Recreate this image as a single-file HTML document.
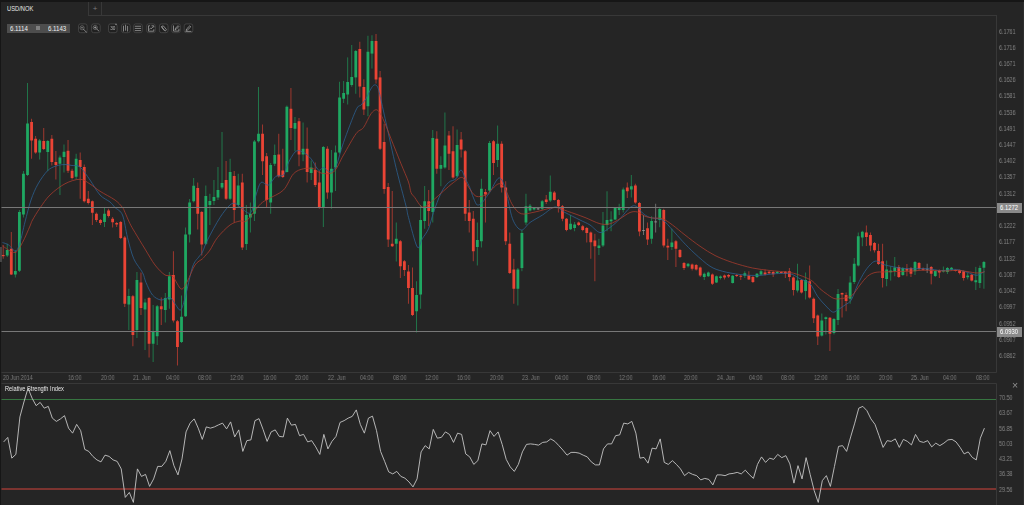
<!DOCTYPE html>
<html lang="en"><head><meta charset="utf-8"><title>USD/NOK</title>
<style>
html,body{margin:0;padding:0;background:#252525;}
body{width:1024px;height:505px;overflow:hidden;position:relative;font-family:"Liberation Sans",sans-serif;}
#app{position:absolute;left:0;top:0;width:1024px;height:505px;background:#252525;overflow:hidden;}
.abs{position:absolute;}
.tab{left:6.8px;top:4px;font-size:6.9px;line-height:9px;color:#e6e6e6;white-space:nowrap;transform:scaleX(0.835);transform-origin:0 0;}
.plus{left:92.2px;top:3.8px;width:6px;text-align:center;font-size:8px;line-height:9px;color:#7a7a7a;}
.pbox{left:7px;top:23.5px;width:62.8px;height:9.3px;background:#4d4d4d;}
.pbox span{position:absolute;top:1.2px;font-size:6.8px;line-height:7px;color:#f0f0f0;white-space:nowrap;transform:scaleX(0.9);transform-origin:0 0;}
.ico{position:absolute;top:23.7px;width:8.6px;height:8.6px;border:0.8px solid #4d4d4d;border-radius:2px;}
.ico svg{position:absolute;left:0;top:0;width:8.6px;height:8.6px;}
.pl{position:absolute;left:999px;font-size:6.6px;line-height:7px;color:#858585;white-space:nowrap;transform:scaleX(0.82);will-change:transform;transform-origin:0 0;}
.hl{position:absolute;left:997px;width:25.4px;height:10px;background:#8a8a8a;} .hl span{position:absolute;left:3px;top:0;color:#fff;font-size:6.6px;line-height:10px;white-space:nowrap;transform:scaleX(0.89);transform-origin:0 0;}
.tlab{position:absolute;top:374.0px;font-size:6.5px;line-height:7px;color:#7c7c7c;white-space:nowrap;transform:scaleX(0.83);will-change:transform;transform-origin:0 0;}
.rsit{left:5px;top:385.3px;font-size:7px;line-height:8px;color:#e8e8e8;white-space:nowrap;transform:scaleX(0.81);transform-origin:0 0;}
.x{left:1012.2px;top:380.1px;font-size:10.5px;line-height:11px;color:#909090;will-change:transform;}
</style></head><body><div id="app">

<div class="abs" style="left:0;top:0;width:1024px;height:1.6px;background:#161616"></div>
<div class="abs" style="left:0;top:0;width:1.2px;height:505px;background:#161616"></div>
<div class="abs" style="left:1022.6px;top:1.6px;width:1.4px;height:505px;background:#2d2d2d"></div>
<div class="abs" style="left:0;top:247.3px;width:1.5px;height:14.4px;background:#464646"></div>
<div class="abs tab">USD/NOK</div>
<div class="abs" style="left:88px;top:2px;width:1px;height:13.5px;background:#383838"></div>
<div class="abs" style="left:101px;top:2px;width:1px;height:13.5px;background:#383838"></div>
<div class="abs" style="left:88px;top:15px;width:909px;height:1px;background:#383838"></div>
<div class="abs plus">+</div>
<div class="abs pbox"><span style="left:2.8px">6.1114</span><i class="abs" style="left:29px;top:2.8px;width:4.2px;height:3.8px;background:#808080"></i><span style="left:41.1px">6.1143</span></div>
<svg class="abs" style="left:0;top:0;will-change:transform" width="1024" height="505" viewBox="0 0 1024 505">
<g stroke="#383838" stroke-width="1" fill="none"><path d="M996.5 15.5V372.5H1.5M1.5 383.5H996.5V505"/></g>
<g stroke-width="1" opacity="0.62"><line x1="3.2" x2="3.2" y1="245" y2="258.75" stroke="#ea4435"/><line x1="7.25" x2="7.25" y1="243.75" y2="257" stroke="#1fa862"/><line x1="11.3" x2="11.3" y1="232" y2="275" stroke="#ea4435"/><line x1="15.36" x2="15.36" y1="250" y2="277.5" stroke="#1fa862"/><line x1="19.41" x2="19.41" y1="210" y2="272" stroke="#1fa862"/><line x1="23.46" x2="23.46" y1="171" y2="217.5" stroke="#1fa862"/><line x1="27.52" x2="27.52" y1="83" y2="176" stroke="#1fa862"/><line x1="31.57" x2="31.57" y1="118.75" y2="158.75" stroke="#ea4435"/><line x1="35.62" x2="35.62" y1="136" y2="153.75" stroke="#ea4435"/><line x1="39.67" x2="39.67" y1="139" y2="159.5" stroke="#1fa862"/><line x1="43.73" x2="43.73" y1="128" y2="150" stroke="#ea4435"/><line x1="47.78" x2="47.78" y1="140" y2="171" stroke="#1fa862"/><line x1="51.83" x2="51.83" y1="135" y2="165.5" stroke="#ea4435"/><line x1="55.88" x2="55.88" y1="151" y2="179.5" stroke="#ea4435"/><line x1="59.94" x2="59.94" y1="155.5" y2="195" stroke="#1fa862"/><line x1="63.99" x2="63.99" y1="144.5" y2="172.5" stroke="#1fa862"/><line x1="68.04" x2="68.04" y1="140" y2="173" stroke="#ea4435"/><line x1="72.09" x2="72.09" y1="168.75" y2="179.5" stroke="#ea4435"/><line x1="76.15" x2="76.15" y1="153.75" y2="179.5" stroke="#1fa862"/><line x1="80.2" x2="80.2" y1="152.5" y2="198.75" stroke="#ea4435"/><line x1="84.25" x2="84.25" y1="164.5" y2="202.5" stroke="#ea4435"/><line x1="88.3" x2="88.3" y1="191" y2="204.5" stroke="#ea4435"/><line x1="92.36" x2="92.36" y1="200.5" y2="225" stroke="#ea4435"/><line x1="96.41" x2="96.41" y1="212.5" y2="222" stroke="#ea4435"/><line x1="100.46" x2="100.46" y1="219" y2="225" stroke="#ea4435"/><line x1="104.51" x2="104.51" y1="207.5" y2="227" stroke="#1fa862"/><line x1="108.57" x2="108.57" y1="208.75" y2="217.5" stroke="#ea4435"/><line x1="112.62" x2="112.62" y1="217" y2="227.5" stroke="#ea4435"/><line x1="116.67" x2="116.67" y1="222" y2="227" stroke="#ea4435"/><line x1="120.72" x2="120.72" y1="221" y2="239" stroke="#ea4435"/><line x1="124.78" x2="124.78" y1="236" y2="307" stroke="#ea4435"/><line x1="128.83" x2="128.83" y1="288.75" y2="330" stroke="#1fa862"/><line x1="132.88" x2="132.88" y1="295" y2="346.25" stroke="#ea4435"/><line x1="136.93" x2="136.93" y1="272" y2="338" stroke="#1fa862"/><line x1="140.98" x2="140.98" y1="272.5" y2="315" stroke="#ea4435"/><line x1="145.04" x2="145.04" y1="298.75" y2="350" stroke="#1fa862"/><line x1="149.09" x2="149.09" y1="297" y2="357.5" stroke="#ea4435"/><line x1="153.14" x2="153.14" y1="305" y2="362" stroke="#1fa862"/><line x1="157.19" x2="157.19" y1="305" y2="345" stroke="#1fa862"/><line x1="161.25" x2="161.25" y1="297.5" y2="325" stroke="#ea4435"/><line x1="165.3" x2="165.3" y1="293" y2="322.5" stroke="#1fa862"/><line x1="169.35" x2="169.35" y1="272" y2="308.75" stroke="#1fa862"/><line x1="173.41" x2="173.41" y1="251.25" y2="322.5" stroke="#ea4435"/><line x1="177.46" x2="177.46" y1="320" y2="365.5" stroke="#ea4435"/><line x1="181.51" x2="181.51" y1="295.5" y2="343" stroke="#1fa862"/><line x1="185.56" x2="185.56" y1="227.5" y2="317" stroke="#1fa862"/><line x1="189.62" x2="189.62" y1="199" y2="242.5" stroke="#1fa862"/><line x1="193.67" x2="193.67" y1="178" y2="202.5" stroke="#1fa862"/><line x1="197.72" x2="197.72" y1="182.5" y2="229.5" stroke="#ea4435"/><line x1="201.77" x2="201.77" y1="211" y2="255.5" stroke="#ea4435"/><line x1="205.82" x2="205.82" y1="185.5" y2="245" stroke="#1fa862"/><line x1="209.88" x2="209.88" y1="193.75" y2="225" stroke="#1fa862"/><line x1="213.93" x2="213.93" y1="180" y2="205" stroke="#1fa862"/><line x1="217.98" x2="217.98" y1="167" y2="200" stroke="#1fa862"/><line x1="222.03" x2="222.03" y1="132" y2="189" stroke="#1fa862"/><line x1="226.09" x2="226.09" y1="161" y2="200" stroke="#ea4435"/><line x1="230.14" x2="230.14" y1="158.75" y2="200" stroke="#1fa862"/><line x1="234.19" x2="234.19" y1="171" y2="222.5" stroke="#ea4435"/><line x1="238.25" x2="238.25" y1="173.75" y2="207" stroke="#1fa862"/><line x1="242.3" x2="242.3" y1="173.75" y2="250" stroke="#ea4435"/><line x1="246.35" x2="246.35" y1="205" y2="250" stroke="#1fa862"/><line x1="250.4" x2="250.4" y1="202.5" y2="232.5" stroke="#1fa862"/><line x1="254.46" x2="254.46" y1="140" y2="221" stroke="#1fa862"/><line x1="258.51" x2="258.51" y1="87" y2="142.5" stroke="#1fa862"/><line x1="262.56" x2="262.56" y1="124.5" y2="175" stroke="#ea4435"/><line x1="266.61" x2="266.61" y1="153" y2="207" stroke="#ea4435"/><line x1="270.67" x2="270.67" y1="163" y2="213.75" stroke="#1fa862"/><line x1="274.72" x2="274.72" y1="144.5" y2="166" stroke="#1fa862"/><line x1="278.77" x2="278.77" y1="133.75" y2="177.5" stroke="#ea4435"/><line x1="282.82" x2="282.82" y1="148.75" y2="178" stroke="#ea4435"/><line x1="286.88" x2="286.88" y1="105.5" y2="172.5" stroke="#1fa862"/><line x1="290.93" x2="290.93" y1="88" y2="140" stroke="#ea4435"/><line x1="294.98" x2="294.98" y1="117" y2="151.25" stroke="#1fa862"/><line x1="299.03" x2="299.03" y1="118" y2="166.25" stroke="#ea4435"/><line x1="303.08" x2="303.08" y1="122.5" y2="161.25" stroke="#1fa862"/><line x1="307.14" x2="307.14" y1="127.5" y2="182.5" stroke="#ea4435"/><line x1="311.19" x2="311.19" y1="160.5" y2="180" stroke="#1fa862"/><line x1="315.24" x2="315.24" y1="162.5" y2="187" stroke="#ea4435"/><line x1="319.3" x2="319.3" y1="171" y2="208.75" stroke="#ea4435"/><line x1="323.35" x2="323.35" y1="146" y2="227" stroke="#1fa862"/><line x1="327.4" x2="327.4" y1="146.25" y2="198.75" stroke="#ea4435"/><line x1="331.45" x2="331.45" y1="150" y2="208.75" stroke="#1fa862"/><line x1="335.5" x2="335.5" y1="145.5" y2="191" stroke="#1fa862"/><line x1="339.56" x2="339.56" y1="81.75" y2="153.75" stroke="#1fa862"/><line x1="343.61" x2="343.61" y1="81" y2="103" stroke="#1fa862"/><line x1="347.66" x2="347.66" y1="57.4" y2="104.5" stroke="#1fa862"/><line x1="351.72" x2="351.72" y1="45" y2="86.75" stroke="#1fa862"/><line x1="355.77" x2="355.77" y1="50" y2="93.75" stroke="#1fa862"/><line x1="359.82" x2="359.82" y1="41.75" y2="97.5" stroke="#ea4435"/><line x1="363.87" x2="363.87" y1="79.25" y2="115" stroke="#ea4435"/><line x1="367.93" x2="367.93" y1="35.75" y2="116.25" stroke="#1fa862"/><line x1="371.98" x2="371.98" y1="35.25" y2="68.6" stroke="#1fa862"/><line x1="376.03" x2="376.03" y1="34" y2="83.6" stroke="#ea4435"/><line x1="380.08" x2="380.08" y1="71" y2="150" stroke="#ea4435"/><line x1="384.13" x2="384.13" y1="123.75" y2="193.75" stroke="#ea4435"/><line x1="388.19" x2="388.19" y1="183" y2="247" stroke="#ea4435"/><line x1="392.24" x2="392.24" y1="191" y2="247" stroke="#ea4435"/><line x1="396.29" x2="396.29" y1="222.5" y2="261.5" stroke="#1fa862"/><line x1="400.35" x2="400.35" y1="240" y2="278" stroke="#ea4435"/><line x1="404.4" x2="404.4" y1="260" y2="276" stroke="#ea4435"/><line x1="408.45" x2="408.45" y1="265" y2="303.75" stroke="#ea4435"/><line x1="412.5" x2="412.5" y1="267.5" y2="316" stroke="#ea4435"/><line x1="416.56" x2="416.56" y1="281.25" y2="332.5" stroke="#1fa862"/><line x1="420.61" x2="420.61" y1="205" y2="308.75" stroke="#1fa862"/><line x1="424.66" x2="424.66" y1="186" y2="228.75" stroke="#1fa862"/><line x1="428.71" x2="428.71" y1="190" y2="226" stroke="#ea4435"/><line x1="432.76" x2="432.76" y1="130" y2="222.5" stroke="#1fa862"/><line x1="436.82" x2="436.82" y1="131.25" y2="173.75" stroke="#ea4435"/><line x1="440.87" x2="440.87" y1="156.25" y2="186.25" stroke="#1fa862"/><line x1="444.92" x2="444.92" y1="112.5" y2="168.75" stroke="#1fa862"/><line x1="448.98" x2="448.98" y1="131" y2="170" stroke="#ea4435"/><line x1="453.03" x2="453.03" y1="126.25" y2="178.75" stroke="#ea4435"/><line x1="457.08" x2="457.08" y1="129.5" y2="177.5" stroke="#1fa862"/><line x1="461.13" x2="461.13" y1="132" y2="157.5" stroke="#ea4435"/><line x1="465.19" x2="465.19" y1="150" y2="221" stroke="#ea4435"/><line x1="469.24" x2="469.24" y1="200" y2="232.5" stroke="#ea4435"/><line x1="473.29" x2="473.29" y1="211" y2="261.25" stroke="#ea4435"/><line x1="477.34" x2="477.34" y1="222.5" y2="265.5" stroke="#1fa862"/><line x1="481.4" x2="481.4" y1="178.75" y2="247.5" stroke="#1fa862"/><line x1="485.45" x2="485.45" y1="189" y2="222.5" stroke="#ea4435"/><line x1="489.5" x2="489.5" y1="141" y2="192" stroke="#1fa862"/><line x1="493.55" x2="493.55" y1="140" y2="175" stroke="#ea4435"/><line x1="497.61" x2="497.61" y1="125.5" y2="167" stroke="#1fa862"/><line x1="501.66" x2="501.66" y1="141.25" y2="192.5" stroke="#ea4435"/><line x1="505.71" x2="505.71" y1="181.25" y2="245" stroke="#ea4435"/><line x1="509.76" x2="509.76" y1="232.5" y2="274" stroke="#ea4435"/><line x1="513.82" x2="513.82" y1="258.75" y2="303.75" stroke="#ea4435"/><line x1="517.87" x2="517.87" y1="268" y2="305.5" stroke="#1fa862"/><line x1="521.92" x2="521.92" y1="230" y2="271.25" stroke="#1fa862"/><line x1="525.97" x2="525.97" y1="193.75" y2="225" stroke="#1fa862"/><line x1="530.03" x2="530.03" y1="204" y2="211.5" stroke="#1fa862"/><line x1="534.08" x2="534.08" y1="207" y2="210.5" stroke="#1fa862"/><line x1="538.13" x2="538.13" y1="208" y2="210" stroke="#9a9a9a"/><line x1="542.18" x2="542.18" y1="200" y2="210" stroke="#1fa862"/><line x1="546.24" x2="546.24" y1="195" y2="204" stroke="#ea4435"/><line x1="550.29" x2="550.29" y1="175.5" y2="202" stroke="#1fa862"/><line x1="554.34" x2="554.34" y1="191" y2="200.5" stroke="#ea4435"/><line x1="558.39" x2="558.39" y1="199" y2="212.5" stroke="#ea4435"/><line x1="562.45" x2="562.45" y1="205" y2="221.25" stroke="#ea4435"/><line x1="566.5" x2="566.5" y1="218" y2="231.25" stroke="#ea4435"/><line x1="570.55" x2="570.55" y1="215" y2="230" stroke="#1fa862"/><line x1="574.6" x2="574.6" y1="222" y2="231.25" stroke="#1fa862"/><line x1="578.66" x2="578.66" y1="221.5" y2="226" stroke="#ea4435"/><line x1="582.71" x2="582.71" y1="225" y2="231.25" stroke="#ea4435"/><line x1="586.76" x2="586.76" y1="227" y2="242.5" stroke="#ea4435"/><line x1="590.81" x2="590.81" y1="231.5" y2="258.75" stroke="#ea4435"/><line x1="594.87" x2="594.87" y1="233.75" y2="281.25" stroke="#ea4435"/><line x1="598.92" x2="598.92" y1="238.75" y2="255" stroke="#1fa862"/><line x1="602.97" x2="602.97" y1="212" y2="247" stroke="#1fa862"/><line x1="607.02" x2="607.02" y1="191.25" y2="231.25" stroke="#1fa862"/><line x1="611.08" x2="611.08" y1="211.25" y2="231.25" stroke="#1fa862"/><line x1="615.13" x2="615.13" y1="207" y2="220" stroke="#1fa862"/><line x1="619.18" x2="619.18" y1="203.75" y2="215" stroke="#1fa862"/><line x1="623.23" x2="623.23" y1="187.5" y2="212.5" stroke="#1fa862"/><line x1="627.29" x2="627.29" y1="182.5" y2="198" stroke="#ea4435"/><line x1="631.34" x2="631.34" y1="175" y2="197.5" stroke="#1fa862"/><line x1="635.39" x2="635.39" y1="183.75" y2="203.75" stroke="#ea4435"/><line x1="639.44" x2="639.44" y1="202" y2="236.25" stroke="#ea4435"/><line x1="643.5" x2="643.5" y1="215" y2="235" stroke="#9a9a9a"/><line x1="647.55" x2="647.55" y1="222.5" y2="245" stroke="#ea4435"/><line x1="651.6" x2="651.6" y1="216.25" y2="243.75" stroke="#1fa862"/><line x1="655.65" x2="655.65" y1="203.75" y2="232.5" stroke="#9a9a9a"/><line x1="659.71" x2="659.71" y1="208" y2="227.25" stroke="#1fa862"/><line x1="663.76" x2="663.76" y1="208.75" y2="247.5" stroke="#ea4435"/><line x1="667.81" x2="667.81" y1="238.75" y2="260" stroke="#ea4435"/><line x1="671.86" x2="671.86" y1="228.75" y2="250" stroke="#1fa862"/><line x1="675.92" x2="675.92" y1="240" y2="267" stroke="#ea4435"/><line x1="679.97" x2="679.97" y1="249" y2="258" stroke="#ea4435"/><line x1="684.02" x2="684.02" y1="262" y2="270" stroke="#ea4435"/><line x1="688.07" x2="688.07" y1="263" y2="267.5" stroke="#1fa862"/><line x1="692.13" x2="692.13" y1="263.5" y2="270.5" stroke="#ea4435"/><line x1="696.18" x2="696.18" y1="264" y2="270.5" stroke="#ea4435"/><line x1="700.23" x2="700.23" y1="266.5" y2="277" stroke="#ea4435"/><line x1="704.28" x2="704.28" y1="272.5" y2="280" stroke="#1fa862"/><line x1="708.34" x2="708.34" y1="271.5" y2="277" stroke="#1fa862"/><line x1="712.39" x2="712.39" y1="273.5" y2="285" stroke="#ea4435"/><line x1="716.44" x2="716.44" y1="275.5" y2="283" stroke="#1fa862"/><line x1="720.49" x2="720.49" y1="275.5" y2="279.5" stroke="#1fa862"/><line x1="724.55" x2="724.55" y1="274.5" y2="279.5" stroke="#ea4435"/><line x1="728.6" x2="728.6" y1="274" y2="278" stroke="#ea4435"/><line x1="732.65" x2="732.65" y1="275" y2="283.5" stroke="#1fa862"/><line x1="736.7" x2="736.7" y1="274" y2="277" stroke="#ea4435"/><line x1="740.76" x2="740.76" y1="275" y2="280" stroke="#ea4435"/><line x1="744.81" x2="744.81" y1="271.25" y2="278" stroke="#1fa862"/><line x1="748.86" x2="748.86" y1="271.25" y2="280" stroke="#ea4435"/><line x1="752.91" x2="752.91" y1="276" y2="283" stroke="#ea4435"/><line x1="756.97" x2="756.97" y1="273" y2="278" stroke="#1fa862"/><line x1="761.02" x2="761.02" y1="270" y2="275.5" stroke="#1fa862"/><line x1="765.07" x2="765.07" y1="269.5" y2="275.5" stroke="#ea4435"/><line x1="769.12" x2="769.12" y1="270.75" y2="274" stroke="#ea4435"/><line x1="773.18" x2="773.18" y1="271" y2="277" stroke="#ea4435"/><line x1="777.23" x2="777.23" y1="271" y2="274" stroke="#1fa862"/><line x1="781.28" x2="781.28" y1="271.5" y2="273.5" stroke="#ea4435"/><line x1="785.33" x2="785.33" y1="271" y2="278" stroke="#ea4435"/><line x1="789.39" x2="789.39" y1="268" y2="281.25" stroke="#ea4435"/><line x1="793.44" x2="793.44" y1="276.5" y2="295.5" stroke="#ea4435"/><line x1="797.49" x2="797.49" y1="263.75" y2="292.5" stroke="#1fa862"/><line x1="801.54" x2="801.54" y1="279" y2="293.5" stroke="#ea4435"/><line x1="805.6" x2="805.6" y1="272.5" y2="299.5" stroke="#1fa862"/><line x1="809.65" x2="809.65" y1="265.5" y2="298.5" stroke="#ea4435"/><line x1="813.7" x2="813.7" y1="297.5" y2="323" stroke="#ea4435"/><line x1="817.75" x2="817.75" y1="314.5" y2="345" stroke="#ea4435"/><line x1="821.81" x2="821.81" y1="313.5" y2="336.5" stroke="#1fa862"/><line x1="825.86" x2="825.86" y1="316.5" y2="334.5" stroke="#1fa862"/><line x1="829.91" x2="829.91" y1="317" y2="351" stroke="#ea4435"/><line x1="833.96" x2="833.96" y1="318" y2="334.5" stroke="#1fa862"/><line x1="838.02" x2="838.02" y1="289" y2="325" stroke="#1fa862"/><line x1="842.07" x2="842.07" y1="292.5" y2="317.5" stroke="#ea4435"/><line x1="846.12" x2="846.12" y1="292.5" y2="311.25" stroke="#ea4435"/><line x1="850.17" x2="850.17" y1="276.25" y2="303.75" stroke="#1fa862"/><line x1="854.23" x2="854.23" y1="258" y2="284" stroke="#1fa862"/><line x1="858.28" x2="858.28" y1="232.5" y2="266.5" stroke="#1fa862"/><line x1="862.33" x2="862.33" y1="230.75" y2="246.25" stroke="#1fa862"/><line x1="866.38" x2="866.38" y1="225.5" y2="246" stroke="#ea4435"/><line x1="870.44" x2="870.44" y1="232.5" y2="251.25" stroke="#ea4435"/><line x1="874.49" x2="874.49" y1="242" y2="252.5" stroke="#ea4435"/><line x1="878.54" x2="878.54" y1="243.75" y2="265" stroke="#ea4435"/><line x1="882.59" x2="882.59" y1="243.75" y2="287.5" stroke="#ea4435"/><line x1="886.65" x2="886.65" y1="260.6" y2="286.25" stroke="#1fa862"/><line x1="890.7" x2="890.7" y1="266.25" y2="280.6" stroke="#1fa862"/><line x1="894.75" x2="894.75" y1="257" y2="276.25" stroke="#1fa862"/><line x1="898.8" x2="898.8" y1="265" y2="278" stroke="#ea4435"/><line x1="902.86" x2="902.86" y1="267" y2="276" stroke="#1fa862"/><line x1="906.91" x2="906.91" y1="264" y2="276.25" stroke="#ea4435"/><line x1="910.96" x2="910.96" y1="267" y2="277" stroke="#ea4435"/><line x1="915.01" x2="915.01" y1="261" y2="275" stroke="#1fa862"/><line x1="919.07" x2="919.07" y1="262" y2="270" stroke="#ea4435"/><line x1="923.12" x2="923.12" y1="267.5" y2="270.5" stroke="#ea4435"/><line x1="927.17" x2="927.17" y1="263.75" y2="273" stroke="#9a9a9a"/><line x1="931.22" x2="931.22" y1="266" y2="284.4" stroke="#ea4435"/><line x1="935.28" x2="935.28" y1="270" y2="277" stroke="#1fa862"/><line x1="939.33" x2="939.33" y1="269.5" y2="278" stroke="#ea4435"/><line x1="943.38" x2="943.38" y1="266.5" y2="272.5" stroke="#1fa862"/><line x1="947.43" x2="947.43" y1="267" y2="274" stroke="#1fa862"/><line x1="951.49" x2="951.49" y1="267" y2="270.5" stroke="#1fa862"/><line x1="955.54" x2="955.54" y1="269.5" y2="271.5" stroke="#ea4435"/><line x1="959.59" x2="959.59" y1="269.5" y2="274.4" stroke="#ea4435"/><line x1="963.64" x2="963.64" y1="270.5" y2="280.6" stroke="#ea4435"/><line x1="967.7" x2="967.7" y1="273" y2="279.4" stroke="#1fa862"/><line x1="971.75" x2="971.75" y1="274" y2="281.5" stroke="#ea4435"/><line x1="975.8" x2="975.8" y1="266.9" y2="290" stroke="#1fa862"/><line x1="979.85" x2="979.85" y1="265.6" y2="288" stroke="#1fa862"/><line x1="983.91" x2="983.91" y1="261" y2="288.75" stroke="#1fa862"/></g>
<g><rect x="1.8" y="255" width="2.8" height="1.2" fill="#ea4435"/><rect x="5.85" y="250" width="2.8" height="5.5" fill="#1fa862"/><rect x="9.9" y="248.75" width="2.8" height="25.75" fill="#ea4435"/><rect x="13.96" y="271" width="2.8" height="3.5" fill="#1fa862"/><rect x="18.01" y="212" width="2.8" height="58.75" fill="#1fa862"/><rect x="22.06" y="173.75" width="2.8" height="40.75" fill="#1fa862"/><rect x="26.12" y="123.5" width="2.8" height="51.5" fill="#1fa862"/><rect x="30.17" y="122" width="2.8" height="18.5" fill="#ea4435"/><rect x="34.22" y="138.75" width="2.8" height="13.75" fill="#ea4435"/><rect x="38.27" y="140.5" width="2.8" height="12" fill="#1fa862"/><rect x="42.33" y="141" width="2.8" height="8" fill="#ea4435"/><rect x="46.38" y="141" width="2.8" height="11" fill="#1fa862"/><rect x="50.43" y="138.75" width="2.8" height="23.25" fill="#ea4435"/><rect x="54.48" y="162" width="2.8" height="3" fill="#ea4435"/><rect x="58.54" y="157.5" width="2.8" height="6.25" fill="#1fa862"/><rect x="62.59" y="151.75" width="2.8" height="5.25" fill="#1fa862"/><rect x="66.64" y="150.75" width="2.8" height="20" fill="#ea4435"/><rect x="70.69" y="170.75" width="2.8" height="7.25" fill="#ea4435"/><rect x="74.75" y="158.75" width="2.8" height="18" fill="#1fa862"/><rect x="78.8" y="160" width="2.8" height="7" fill="#ea4435"/><rect x="82.85" y="167" width="2.8" height="34.25" fill="#ea4435"/><rect x="86.9" y="198.75" width="2.8" height="4.25" fill="#ea4435"/><rect x="90.95" y="201.25" width="2.8" height="11.5" fill="#ea4435"/><rect x="95.01" y="213.75" width="2.8" height="6.25" fill="#ea4435"/><rect x="99.06" y="220" width="2.8" height="3" fill="#ea4435"/><rect x="103.11" y="213.75" width="2.8" height="8.25" fill="#1fa862"/><rect x="107.17" y="210.5" width="2.8" height="5.5" fill="#ea4435"/><rect x="111.22" y="218.75" width="2.8" height="3.5" fill="#ea4435"/><rect x="115.27" y="223" width="2.8" height="1.5" fill="#ea4435"/><rect x="119.32" y="222" width="2.8" height="16" fill="#ea4435"/><rect x="123.38" y="237.5" width="2.8" height="66.25" fill="#ea4435"/><rect x="127.43" y="296" width="2.8" height="8.5" fill="#1fa862"/><rect x="131.48" y="296.25" width="2.8" height="38.75" fill="#ea4435"/><rect x="135.53" y="280" width="2.8" height="50" fill="#1fa862"/><rect x="139.58" y="282.5" width="2.8" height="25.5" fill="#ea4435"/><rect x="143.64" y="302.5" width="2.8" height="7" fill="#1fa862"/><rect x="147.69" y="298" width="2.8" height="45.75" fill="#ea4435"/><rect x="151.74" y="332" width="2.8" height="11.75" fill="#1fa862"/><rect x="155.79" y="306.25" width="2.8" height="30" fill="#1fa862"/><rect x="159.85" y="306.25" width="2.8" height="3" fill="#ea4435"/><rect x="163.9" y="298" width="2.8" height="12" fill="#1fa862"/><rect x="167.95" y="276.25" width="2.8" height="23.25" fill="#1fa862"/><rect x="172" y="275" width="2.8" height="45.5" fill="#ea4435"/><rect x="176.06" y="321.25" width="2.8" height="25.75" fill="#ea4435"/><rect x="180.11" y="316.75" width="2.8" height="25.25" fill="#1fa862"/><rect x="184.16" y="234.5" width="2.8" height="81.75" fill="#1fa862"/><rect x="188.22" y="202.5" width="2.8" height="32" fill="#1fa862"/><rect x="192.27" y="185.75" width="2.8" height="15.5" fill="#1fa862"/><rect x="196.32" y="188" width="2.8" height="25.75" fill="#ea4435"/><rect x="200.37" y="212" width="2.8" height="32.5" fill="#ea4435"/><rect x="204.42" y="196" width="2.8" height="47.75" fill="#1fa862"/><rect x="208.48" y="201" width="2.8" height="4" fill="#1fa862"/><rect x="212.53" y="197" width="2.8" height="4" fill="#1fa862"/><rect x="216.58" y="190" width="2.8" height="7.5" fill="#1fa862"/><rect x="220.63" y="183" width="2.8" height="4.5" fill="#1fa862"/><rect x="224.69" y="180" width="2.8" height="18.75" fill="#ea4435"/><rect x="228.74" y="172" width="2.8" height="26.75" fill="#1fa862"/><rect x="232.79" y="176" width="2.8" height="34" fill="#ea4435"/><rect x="236.84" y="185.5" width="2.8" height="19.5" fill="#1fa862"/><rect x="240.9" y="182.5" width="2.8" height="65" fill="#ea4435"/><rect x="244.95" y="215" width="2.8" height="29" fill="#1fa862"/><rect x="249" y="213.75" width="2.8" height="3.75" fill="#1fa862"/><rect x="253.06" y="141.5" width="2.8" height="72.25" fill="#1fa862"/><rect x="257.11" y="133.75" width="2.8" height="7.5" fill="#1fa862"/><rect x="261.16" y="133.75" width="2.8" height="27.5" fill="#ea4435"/><rect x="265.21" y="156.25" width="2.8" height="43.75" fill="#ea4435"/><rect x="269.27" y="165" width="2.8" height="37.5" fill="#1fa862"/><rect x="273.32" y="155" width="2.8" height="8.75" fill="#1fa862"/><rect x="277.37" y="154.5" width="2.8" height="21.75" fill="#ea4435"/><rect x="281.42" y="170.5" width="2.8" height="6.5" fill="#ea4435"/><rect x="285.48" y="106.75" width="2.8" height="65.25" fill="#1fa862"/><rect x="289.53" y="108.75" width="2.8" height="19.25" fill="#ea4435"/><rect x="293.58" y="123" width="2.8" height="5.75" fill="#1fa862"/><rect x="297.63" y="121.25" width="2.8" height="33.25" fill="#ea4435"/><rect x="301.69" y="148.75" width="2.8" height="5.75" fill="#1fa862"/><rect x="305.74" y="148.75" width="2.8" height="23.25" fill="#ea4435"/><rect x="309.79" y="167.5" width="2.8" height="5.5" fill="#1fa862"/><rect x="313.84" y="170" width="2.8" height="15" fill="#ea4435"/><rect x="317.9" y="182.5" width="2.8" height="25" fill="#ea4435"/><rect x="321.95" y="147" width="2.8" height="60" fill="#1fa862"/><rect x="326" y="148.75" width="2.8" height="43.75" fill="#ea4435"/><rect x="330.05" y="168.75" width="2.8" height="23.75" fill="#1fa862"/><rect x="334.11" y="152.5" width="2.8" height="15" fill="#1fa862"/><rect x="338.16" y="97.5" width="2.8" height="55" fill="#1fa862"/><rect x="342.21" y="93" width="2.8" height="5.75" fill="#1fa862"/><rect x="346.26" y="82" width="2.8" height="12.5" fill="#1fa862"/><rect x="350.32" y="77" width="2.8" height="8" fill="#1fa862"/><rect x="354.37" y="51" width="2.8" height="26.4" fill="#1fa862"/><rect x="358.42" y="49" width="2.8" height="37.5" fill="#ea4435"/><rect x="362.47" y="87" width="2.8" height="22.5" fill="#ea4435"/><rect x="366.53" y="51.75" width="2.8" height="54.5" fill="#1fa862"/><rect x="370.58" y="41" width="2.8" height="12.6" fill="#1fa862"/><rect x="374.63" y="41" width="2.8" height="38.5" fill="#ea4435"/><rect x="378.68" y="77.4" width="2.8" height="71.35" fill="#ea4435"/><rect x="382.74" y="142" width="2.8" height="47" fill="#ea4435"/><rect x="386.79" y="187" width="2.8" height="52.5" fill="#ea4435"/><rect x="390.84" y="243.75" width="2.8" height="2.5" fill="#ea4435"/><rect x="394.89" y="238.75" width="2.8" height="5" fill="#1fa862"/><rect x="398.95" y="241.25" width="2.8" height="25" fill="#ea4435"/><rect x="403" y="261.25" width="2.8" height="8.75" fill="#ea4435"/><rect x="407.05" y="271.5" width="2.8" height="16.5" fill="#ea4435"/><rect x="411.1" y="288" width="2.8" height="27" fill="#ea4435"/><rect x="415.16" y="295" width="2.8" height="16.25" fill="#1fa862"/><rect x="419.21" y="220" width="2.8" height="74.5" fill="#1fa862"/><rect x="423.26" y="201.25" width="2.8" height="19.75" fill="#1fa862"/><rect x="427.31" y="201.25" width="2.8" height="9.75" fill="#ea4435"/><rect x="431.37" y="138" width="2.8" height="74" fill="#1fa862"/><rect x="435.42" y="138.75" width="2.8" height="30" fill="#ea4435"/><rect x="439.47" y="165" width="2.8" height="3.75" fill="#1fa862"/><rect x="443.52" y="145.5" width="2.8" height="22" fill="#1fa862"/><rect x="447.58" y="135.5" width="2.8" height="18.25" fill="#ea4435"/><rect x="451.63" y="151.25" width="2.8" height="26.25" fill="#ea4435"/><rect x="455.68" y="145" width="2.8" height="31.25" fill="#1fa862"/><rect x="459.73" y="139.5" width="2.8" height="10" fill="#ea4435"/><rect x="463.79" y="151.25" width="2.8" height="62.5" fill="#ea4435"/><rect x="467.84" y="212.5" width="2.8" height="8.5" fill="#ea4435"/><rect x="471.89" y="218.75" width="2.8" height="32.5" fill="#ea4435"/><rect x="475.94" y="240" width="2.8" height="7" fill="#1fa862"/><rect x="480" y="188.75" width="2.8" height="52.5" fill="#1fa862"/><rect x="484.05" y="192" width="2.8" height="2.5" fill="#ea4435"/><rect x="488.1" y="143" width="2.8" height="47.5" fill="#1fa862"/><rect x="492.15" y="141.25" width="2.8" height="21.75" fill="#ea4435"/><rect x="496.21" y="143.75" width="2.8" height="16.25" fill="#1fa862"/><rect x="500.26" y="143.75" width="2.8" height="43.75" fill="#ea4435"/><rect x="504.31" y="187.5" width="2.8" height="53.75" fill="#ea4435"/><rect x="508.36" y="243.75" width="2.8" height="29.25" fill="#ea4435"/><rect x="512.42" y="269.5" width="2.8" height="19.25" fill="#ea4435"/><rect x="516.47" y="269.5" width="2.8" height="19.25" fill="#1fa862"/><rect x="520.52" y="233" width="2.8" height="35" fill="#1fa862"/><rect x="524.57" y="206.25" width="2.8" height="16.25" fill="#1fa862"/><rect x="528.63" y="205.75" width="2.8" height="4.75" fill="#1fa862"/><rect x="532.68" y="208" width="2.8" height="1.5" fill="#1fa862"/><rect x="536.73" y="208.5" width="2.8" height="0.8" fill="#9a9a9a"/><rect x="540.78" y="201.25" width="2.8" height="7.5" fill="#1fa862"/><rect x="544.84" y="199.5" width="2.8" height="2.5" fill="#ea4435"/><rect x="548.89" y="191.75" width="2.8" height="8.75" fill="#1fa862"/><rect x="552.94" y="192.5" width="2.8" height="7.5" fill="#ea4435"/><rect x="556.99" y="200" width="2.8" height="6.25" fill="#ea4435"/><rect x="561.05" y="206.25" width="2.8" height="12.5" fill="#ea4435"/><rect x="565.1" y="218.75" width="2.8" height="11.25" fill="#ea4435"/><rect x="569.15" y="223.75" width="2.8" height="5.5" fill="#1fa862"/><rect x="573.2" y="224.5" width="2.8" height="3.5" fill="#1fa862"/><rect x="577.26" y="222.5" width="2.8" height="2.5" fill="#ea4435"/><rect x="581.31" y="226.25" width="2.8" height="3.75" fill="#ea4435"/><rect x="585.36" y="228" width="2.8" height="5" fill="#ea4435"/><rect x="589.41" y="232.5" width="2.8" height="9.75" fill="#ea4435"/><rect x="593.47" y="240.5" width="2.8" height="5.75" fill="#ea4435"/><rect x="597.52" y="245.5" width="2.8" height="2.5" fill="#1fa862"/><rect x="601.57" y="225.5" width="2.8" height="20" fill="#1fa862"/><rect x="605.62" y="220" width="2.8" height="5" fill="#1fa862"/><rect x="609.68" y="219.5" width="2.8" height="1.75" fill="#1fa862"/><rect x="613.73" y="208" width="2.8" height="11.5" fill="#1fa862"/><rect x="617.78" y="207.5" width="2.8" height="2.5" fill="#1fa862"/><rect x="621.83" y="189.5" width="2.8" height="20.5" fill="#1fa862"/><rect x="625.89" y="187.5" width="2.8" height="3.75" fill="#ea4435"/><rect x="629.94" y="186.25" width="2.8" height="3.25" fill="#1fa862"/><rect x="633.99" y="185.5" width="2.8" height="17" fill="#ea4435"/><rect x="638.04" y="203" width="2.8" height="28.5" fill="#ea4435"/><rect x="642.1" y="230" width="2.8" height="0.8" fill="#9a9a9a"/><rect x="646.15" y="228.25" width="2.8" height="11.25" fill="#ea4435"/><rect x="650.2" y="221" width="2.8" height="17.75" fill="#1fa862"/><rect x="654.25" y="221.5" width="2.8" height="0.8" fill="#9a9a9a"/><rect x="658.31" y="209" width="2.8" height="11" fill="#1fa862"/><rect x="662.36" y="210" width="2.8" height="35.5" fill="#ea4435"/><rect x="666.41" y="245.75" width="2.8" height="1.75" fill="#ea4435"/><rect x="670.46" y="242.5" width="2.8" height="4.5" fill="#1fa862"/><rect x="674.52" y="241.25" width="2.8" height="7.5" fill="#ea4435"/><rect x="678.57" y="250" width="2.8" height="7" fill="#ea4435"/><rect x="682.62" y="263" width="2.8" height="5" fill="#ea4435"/><rect x="686.67" y="263.75" width="2.8" height="2.5" fill="#1fa862"/><rect x="690.73" y="264.5" width="2.8" height="4.25" fill="#ea4435"/><rect x="694.78" y="265" width="2.8" height="4.5" fill="#ea4435"/><rect x="698.83" y="267.5" width="2.8" height="8" fill="#ea4435"/><rect x="702.88" y="273.75" width="2.8" height="3.25" fill="#1fa862"/><rect x="706.94" y="272.5" width="2.8" height="3.75" fill="#1fa862"/><rect x="710.99" y="274.5" width="2.8" height="9.25" fill="#ea4435"/><rect x="715.04" y="276.25" width="2.8" height="6.25" fill="#1fa862"/><rect x="719.09" y="276.5" width="2.8" height="1.5" fill="#1fa862"/><rect x="723.15" y="275.5" width="2.8" height="2" fill="#ea4435"/><rect x="727.2" y="275" width="2.8" height="1.5" fill="#ea4435"/><rect x="731.25" y="275.75" width="2.8" height="7.25" fill="#1fa862"/><rect x="735.3" y="275" width="2.8" height="1" fill="#ea4435"/><rect x="739.36" y="275.75" width="2.8" height="1" fill="#ea4435"/><rect x="743.41" y="273.25" width="2.8" height="2.5" fill="#1fa862"/><rect x="747.46" y="275.5" width="2.8" height="4" fill="#ea4435"/><rect x="751.51" y="277" width="2.8" height="5" fill="#ea4435"/><rect x="755.57" y="273.75" width="2.8" height="3.25" fill="#1fa862"/><rect x="759.62" y="271.25" width="2.8" height="3.25" fill="#1fa862"/><rect x="763.67" y="272.5" width="2.8" height="2" fill="#ea4435"/><rect x="767.72" y="271.75" width="2.8" height="1.5" fill="#ea4435"/><rect x="771.78" y="272" width="2.8" height="2.25" fill="#ea4435"/><rect x="775.83" y="271.75" width="2.8" height="1.25" fill="#1fa862"/><rect x="779.88" y="272" width="2.8" height="1" fill="#ea4435"/><rect x="783.93" y="271.75" width="2.8" height="2" fill="#ea4435"/><rect x="787.99" y="271.25" width="2.8" height="5.75" fill="#ea4435"/><rect x="792.04" y="277.5" width="2.8" height="12.5" fill="#ea4435"/><rect x="796.09" y="280.5" width="2.8" height="10" fill="#1fa862"/><rect x="800.14" y="280" width="2.8" height="12.5" fill="#ea4435"/><rect x="804.2" y="280" width="2.8" height="11" fill="#1fa862"/><rect x="808.25" y="281.25" width="2.8" height="16.25" fill="#ea4435"/><rect x="812.3" y="298.75" width="2.8" height="19.5" fill="#ea4435"/><rect x="816.35" y="315.5" width="2.8" height="21" fill="#ea4435"/><rect x="820.41" y="320.5" width="2.8" height="15.1" fill="#1fa862"/><rect x="824.46" y="317.25" width="2.8" height="1.75" fill="#1fa862"/><rect x="828.51" y="317.75" width="2.8" height="16" fill="#ea4435"/><rect x="832.56" y="319" width="2.8" height="14" fill="#1fa862"/><rect x="836.62" y="294" width="2.8" height="26" fill="#1fa862"/><rect x="840.67" y="293" width="2.8" height="1.5" fill="#ea4435"/><rect x="844.72" y="295" width="2.8" height="6" fill="#ea4435"/><rect x="848.77" y="282.5" width="2.8" height="16.25" fill="#1fa862"/><rect x="852.83" y="263.75" width="2.8" height="18.25" fill="#1fa862"/><rect x="856.88" y="236.25" width="2.8" height="29.25" fill="#1fa862"/><rect x="860.93" y="231.75" width="2.8" height="5.75" fill="#1fa862"/><rect x="864.98" y="232.5" width="2.8" height="4.5" fill="#ea4435"/><rect x="869.04" y="235" width="2.8" height="10.5" fill="#ea4435"/><rect x="873.09" y="243" width="2.8" height="7.25" fill="#ea4435"/><rect x="877.14" y="251" width="2.8" height="13" fill="#ea4435"/><rect x="881.19" y="261.25" width="2.8" height="16.75" fill="#ea4435"/><rect x="885.25" y="269.5" width="2.8" height="9.5" fill="#1fa862"/><rect x="889.3" y="270.6" width="2.8" height="1.65" fill="#1fa862"/><rect x="893.35" y="267.5" width="2.8" height="3.75" fill="#1fa862"/><rect x="897.4" y="267" width="2.8" height="10" fill="#ea4435"/><rect x="901.46" y="268" width="2.8" height="7" fill="#1fa862"/><rect x="905.51" y="268.75" width="2.8" height="1.85" fill="#ea4435"/><rect x="909.56" y="268" width="2.8" height="5.75" fill="#ea4435"/><rect x="913.61" y="262" width="2.8" height="9.25" fill="#1fa862"/><rect x="917.67" y="263" width="2.8" height="6" fill="#ea4435"/><rect x="921.72" y="268.5" width="2.8" height="1.25" fill="#ea4435"/><rect x="925.77" y="268.75" width="2.8" height="0.8" fill="#9a9a9a"/><rect x="929.82" y="267" width="2.8" height="6.75" fill="#ea4435"/><rect x="933.88" y="271" width="2.8" height="5" fill="#1fa862"/><rect x="937.93" y="270.6" width="2.8" height="1.9" fill="#ea4435"/><rect x="941.98" y="270" width="2.8" height="1.5" fill="#1fa862"/><rect x="946.03" y="268" width="2.8" height="4" fill="#1fa862"/><rect x="950.09" y="267.75" width="2.8" height="2" fill="#1fa862"/><rect x="954.14" y="270" width="2.8" height="1" fill="#ea4435"/><rect x="958.19" y="270" width="2.8" height="3" fill="#ea4435"/><rect x="962.24" y="271.25" width="2.8" height="6.75" fill="#ea4435"/><rect x="966.3" y="275.6" width="2.8" height="1.65" fill="#1fa862"/><rect x="970.35" y="274.75" width="2.8" height="5.85" fill="#ea4435"/><rect x="974.4" y="280.25" width="2.8" height="2" fill="#1fa862"/><rect x="978.45" y="268" width="2.8" height="15" fill="#1fa862"/><rect x="982.51" y="262" width="2.8" height="5.75" fill="#1fa862"/></g>
<path d="M2.5,242.5C3.5,242.9 6.67,243.6 8.75,245C10.83,246.4 13.7,251.65 15.5,251.25C17.3,250.85 18.48,247.18 20,242.5C21.52,237.82 23.24,228.8 25,222C26.76,215.2 28.92,206.08 31,200C33.08,193.92 35.36,188.68 38,184C40.64,179.32 44.62,173.63 47.5,170.75C50.38,167.87 53.2,167 56,166C58.8,165 62.44,164.58 65,164.5C67.56,164.42 69.6,165.1 72,165.5C74.4,165.9 77.12,164.68 80,167C82.88,169.32 86.8,175.52 90,180C93.2,184.48 96.8,191.48 100,195C103.2,198.52 107.6,200 110,202C112.4,204 113,205.42 115,207.5C117,209.58 120.5,210.2 122.5,215C124.5,219.8 125.7,230.5 127.5,237.5C129.3,244.5 131.35,253.15 133.75,258.75C136.15,264.35 140.54,268.7 142.5,272.5C144.46,276.3 144.4,278.9 146,282.5C147.6,286.1 150.1,292.2 152.5,295C154.9,297.8 158.2,299.6 161,300C163.8,300.4 167.76,296.9 170,297.5C172.24,298.1 173.32,301.75 175,303.75C176.68,305.75 178.9,310.92 180.5,310C182.1,309.08 183.08,304.88 185,298C186.92,291.12 190.3,273.56 192.5,267C194.7,260.44 197.15,259.4 198.75,257C200.35,254.6 201.1,254.72 202.5,252C203.9,249.28 204.7,245.52 207.5,240C210.3,234.48 216.4,223.1 220,217.5C223.6,211.9 227.44,207.2 230,205C232.56,202.8 233.84,202.95 236,203.75C238.16,204.55 241.1,208.6 243.5,210C245.9,211.4 249,214.9 251,212.5C253,210.1 254.4,199.8 256,195C257.6,190.2 259,184.1 261,182.5C263,180.9 266.1,186 268.5,185C270.9,184 273.6,177.85 276,176.25C278.4,174.65 281.5,177.2 283.5,175C285.5,172.8 286.5,166.3 288.5,162.5C290.5,158.7 293.6,152.85 296,151.25C298.4,149.65 301.1,151.3 303.5,152.5C305.9,153.7 308.6,155.95 311,158.75C313.4,161.55 316.5,168.6 318.5,170C320.5,171.4 321.7,167.18 323.5,167.5C325.3,167.82 327.75,172.2 329.75,172C331.75,171.8 333.8,170.97 336,166.25C338.2,161.53 340.3,151.5 343.5,142.5C346.7,133.5 353.2,116 356,110C358.8,104 359.4,106.8 361,105C362.6,103.2 364.56,101.07 366,98.75C367.44,96.43 368.88,92.57 370,90.5C371.12,88.43 372.1,86.7 373,85.8C373.9,84.9 374.88,84.75 375.6,84.9C376.32,85.05 377,85.85 377.5,86.75C378,87.65 378.19,88.38 378.75,90.5C379.31,92.62 379.84,94.88 381,100C382.16,105.12 383.6,111.7 386,122.5C388.4,133.3 392.8,154.14 396,167.5C399.2,180.86 404,198 406,206C408,214 406.7,210.94 408.5,217.5C410.3,224.06 415.05,243.6 417.25,247C419.45,250.4 420.45,241.67 422.25,238.75C424.05,235.83 426.7,232.95 428.5,228.75C430.3,224.55 431.5,218.22 433.5,212.5C435.5,206.78 438.6,197.8 441,193C443.4,188.2 446.1,184.78 448.5,182.5C450.9,180.22 454,180.75 456,178.75C458,176.75 459.4,169.8 461,170C462.6,170.2 464.6,177.2 466,180C467.4,182.8 468.55,184.62 469.75,187.5C470.95,190.38 472.3,195.2 473.5,198C474.7,200.8 475.85,204.28 477.25,205C478.65,205.72 480.85,203.7 482.25,202.5C483.65,201.3 484.76,199.18 486,197.5C487.24,195.82 487.96,195.12 490,192C492.04,188.88 496.35,178.72 498.75,178C501.15,177.28 502.8,180.98 505,187.5C507.2,194.02 509.9,211.95 512.5,218.75C515.1,225.55 518.45,229.4 521.25,230C524.05,230.6 526.6,224.9 530,222.5C533.4,220.1 538.5,217.48 542.5,215C546.5,212.52 551.4,207.4 555,207C558.6,206.6 561,210.42 565,212.5C569,214.58 576,218 580,220C584,222 586.8,223 590,225C593.2,227 596.8,232.1 600,232.5C603.2,232.9 606.8,229.7 610,227.5C613.2,225.3 616.8,221.95 620,218.75C623.2,215.55 627.4,209.5 630,207.5C632.6,205.5 634.25,205.37 636.25,206.25C638.25,207.13 640.3,211.2 642.5,213C644.7,214.8 646.8,216.38 650,217.5C653.2,218.62 658.9,218 662.5,220C666.1,222 669.3,226.6 672.5,230C675.7,233.4 678.9,237.45 682.5,241.25C686.1,245.05 690.6,249.75 695,253.75C699.4,257.75 705.6,263.45 710,266.25C714.4,269.05 717.7,269.93 722.5,271.25C727.3,272.57 734.4,273.82 740,274.5C745.6,275.18 751.9,275.62 757.5,275.5C763.1,275.38 769.8,274.03 775,273.75C780.2,273.47 786,272.95 790,273.75C794,274.55 796.8,277.15 800,278.75C803.2,280.35 807.2,280.95 810,283.75C812.8,286.55 815.1,292.85 817.5,296.25C819.9,299.65 822.6,302.48 825,305C827.4,307.52 830.5,311.2 832.5,312C834.5,312.8 835.5,311.12 837.5,310C839.5,308.88 842.8,306.6 845,305C847.2,303.4 849.25,303.2 851.25,300C853.25,296.8 855.3,289.6 857.5,285C859.7,280.4 862.6,274.85 865,271.25C867.4,267.65 870.5,264.1 872.5,262.5C874.5,260.9 875.78,260.95 877.5,261.25C879.22,261.55 881.13,263.6 883.25,264.4C885.37,265.2 887.55,265.59 890.75,266.25C893.95,266.91 899.25,268.1 903.25,268.5C907.25,268.9 911.75,268.71 915.75,268.75C919.75,268.79 924.25,268.45 928.25,268.75C932.25,269.05 936.75,270.5 940.75,270.6C944.75,270.7 950.25,269.5 953.25,269.4C956.25,269.3 956.9,269.42 959.5,270C962.1,270.58 966.7,272.16 969.5,273C972.3,273.84 974.6,275.49 977,275.25C979.4,275.01 983.3,272.1 984.5,271.5" fill="none" stroke="#2c6190" stroke-width="0.9" opacity="0.88"/>
<path d="M2.5,246C4.5,247.04 11.8,253.06 15,252.5C18.2,251.94 20.1,246.74 22.5,242.5C24.9,238.26 28.4,229.6 30,226C31.6,222.4 30.9,222.88 32.5,220C34.1,217.12 37.2,212 40,208C42.8,204 46,198.88 50,195C54,191.12 60.2,186.27 65,183.75C69.8,181.23 76,179.21 80,179.25C84,179.29 86.8,182.08 90,184C93.2,185.92 96,188.69 100,191.25C104,193.81 111.4,197.4 115,200C118.6,202.6 120.9,205.5 122.5,207.5C124.1,209.5 123.8,209.9 125,212.5C126.2,215.1 128.4,220.55 130,223.75C131.6,226.95 132.6,228.46 135,232.5C137.4,236.54 141.8,243.8 145,249C148.2,254.2 151.8,260.84 155,265C158.2,269.16 162.2,273.2 165,275C167.8,276.8 169.9,274.01 172.5,276.25C175.1,278.49 178.85,288.24 181.25,289C183.65,289.76 185.3,284.84 187.5,281C189.7,277.16 192.6,268.56 195,265C197.4,261.44 200.9,260.19 202.5,258.75C204.1,257.31 203.8,257.4 205,256C206.2,254.6 208,252.96 210,250C212,247.04 214.3,241.5 217.5,237.5C220.7,233.5 226.4,227.64 230,225C233.6,222.36 237.44,221.6 240,221C242.56,220.4 243.84,222.61 246,221.25C248.16,219.89 251.1,215.34 253.5,212.5C255.9,209.66 258.6,205.7 261,203.5C263.4,201.3 264.9,200.91 268.5,198.75C272.1,196.59 279.5,194 283.5,190C287.5,186 290.3,177.15 293.5,173.75C296.7,170.35 300.3,169.55 303.5,168.75C306.7,167.95 310.7,168.07 313.5,168.75C316.3,169.43 317.8,172.48 321,173C324.2,173.52 329.9,174.88 333.5,172C337.1,169.12 339.9,161.12 343.5,155C347.1,148.88 352.8,138.15 356,133.75C359.2,129.35 361.1,130.7 363.5,127.5C365.9,124.3 368.8,116.55 371,113.75C373.2,110.95 375.25,109 377.25,110C379.25,111 381.3,115.4 383.5,120C385.7,124.6 388.2,131.75 391,138.75C393.8,145.75 398.2,156.83 401,163.75C403.8,170.67 406.9,177.4 408.5,182C410.1,186.6 410,190.02 411,192.5C412,194.98 413.15,195.3 414.75,197.5C416.35,199.7 419.2,204.85 421,206.25C422.8,207.65 424,207.25 426,206.25C428,205.25 430.7,202.44 433.5,200C436.3,197.56 440.3,193.8 443.5,191C446.7,188.2 450.5,184.66 453.5,182.5C456.5,180.34 459.85,176.78 462.25,177.5C464.65,178.22 466.3,184 468.5,187C470.7,190 473.2,194.97 476,196.25C478.8,197.53 483.76,195.8 486,195C488.24,194.2 487.96,193.05 490,191.25C492.04,189.45 496.35,184.15 498.75,183.75C501.15,183.35 502.8,185.35 505,188.75C507.2,192.15 509.9,201 512.5,205C515.1,209 517.65,212.63 521.25,213.75C524.85,214.87 529.6,213 535,212C540.4,211 549.8,207.62 555,207.5C560.2,207.38 562.7,209.65 567.5,211.25C572.3,212.85 579.8,215.5 585,217.5C590.2,219.5 596,222.75 600,223.75C604,224.75 606.8,224.55 610,223.75C613.2,222.95 616.8,220.55 620,218.75C623.2,216.95 627.2,213.58 630,212.5C632.8,211.42 635.1,211.4 637.5,212C639.9,212.6 642.6,215.29 645,216.25C647.4,217.21 649.7,217.6 652.5,218C655.3,218.4 659.3,217.63 662.5,218.75C665.7,219.87 668.9,222.4 672.5,225C676.1,227.6 680.6,231.6 685,235C689.4,238.4 695.2,242.97 700,246.25C704.8,249.53 709.8,252.9 715,255.5C720.2,258.1 726.5,260.5 732.5,262.5C738.5,264.5 746.5,266.72 752.5,268C758.5,269.28 764,269.78 770,270.5C776,271.22 784.8,271.58 790,272.5C795.2,273.42 798.9,274.85 802.5,276.25C806.1,277.65 809.7,279.25 812.5,281.25C815.3,283.25 817.6,286.63 820,288.75C822.4,290.87 825.1,292.9 827.5,294.5C829.9,296.1 832.2,298.19 835,298.75C837.8,299.31 842.2,298.6 845,298C847.8,297.4 850.1,297.08 852.5,295C854.9,292.92 857.6,288 860,285C862.4,282 865.1,278.25 867.5,276.25C869.9,274.25 872.28,273.2 875,272.5C877.72,271.8 880.98,272.06 884.5,271.9C888.02,271.74 893,271.6 897,271.5C901,271.4 905.5,271.45 909.5,271.25C913.5,271.05 918,270.35 922,270.25C926,270.15 930.5,270.48 934.5,270.6C938.5,270.72 943.4,271.06 947,271C950.6,270.94 953.8,270.17 957,270.25C960.2,270.33 963.8,271.06 967,271.5C970.2,271.94 974.2,272.94 977,273C979.8,273.06 983.3,272.08 984.5,271.9" fill="none" stroke="#a83c2e" stroke-width="0.9" opacity="0.88"/>
<g stroke="#787878" stroke-width="1"><path d="M1.5 207.5H996M1.5 331.5H996"/></g>
<path d="M1.5 399.5H996" stroke="#377541" stroke-width="1.1"/>
<path d="M1.5 489H996" stroke="#7c3430" stroke-width="1.9"/>
<polyline points="3.7,441.9 7.75,437.4 11.8,458.15 15.86,454.4 19.91,416.9 23.96,401.9 28.02,388.15 32.07,398.15 36.12,405.65 40.17,402.4 44.23,408.15 48.28,406.4 52.33,418.15 56.38,421.4 60.44,418.9 64.49,415.65 68.54,428.15 72.59,433.15 76.65,424.4 80.7,430.65 84.75,449.4 88.8,451.4 92.86,456.4 96.91,459.9 100.96,461.9 105.01,455.15 109.07,456.4 113.12,459.9 117.17,461.4 121.22,468.9 125.28,497.4 129.33,492.4 133.38,502.4 137.43,468.9 141.48,476.4 145.54,474.4 149.59,486.4 153.64,478.9 157.69,466.4 161.75,466.4 165.8,461.4 169.85,450.65 173.91,465.65 177.96,474.9 182.01,458.9 186.06,431.9 190.12,423.15 194.17,418.9 198.22,428.15 202.27,439.4 206.32,426.9 210.38,428.15 214.43,426.9 218.48,424.9 222.53,423.15 226.59,428.9 230.64,421.9 234.69,436.9 238.75,429.9 242.8,451.4 246.85,440.65 250.9,439.9 254.96,420.65 259.01,418.65 263.06,429.4 267.11,441.4 271.17,431.9 275.22,429.9 279.27,436.4 283.32,436.9 287.38,418.15 291.43,425.15 295.48,424.4 299.53,435.65 303.58,434.4 307.64,441.9 311.69,440.65 315.74,446.9 319.8,454.4 323.85,434.4 327.9,448.9 331.95,441.4 336,436.4 340.06,422.4 344.11,420.65 348.16,418.15 352.22,416.4 356.27,409.9 360.32,424.4 364.37,433.15 368.43,418.15 372.48,416.15 376.53,430.65 380.58,451.4 384.63,461.4 388.69,471.9 392.74,473.9 396.79,471.4 400.85,476.4 404.9,478.15 408.95,481.9 413,486.9 417.06,478.9 421.11,451.9 425.16,445.65 429.21,448.9 433.26,429.4 437.32,438.15 441.37,437.4 445.42,431.9 449.48,434.4 453.53,442.4 457.58,433.15 461.63,434.4 465.69,453.9 469.74,456.9 473.79,464.4 477.84,460.65 481.9,443.9 485.95,444.9 490,430.65 494.05,436.4 498.11,431.9 502.16,444.4 506.21,459.4 510.26,466.9 514.32,471.4 518.37,464.4 522.42,451.9 526.47,444.4 530.53,443.9 534.58,444.4 538.63,445.15 542.68,442.4 546.74,441.9 550.79,438.9 554.84,441.4 558.89,445.65 562.95,450.15 567,455.15 571.05,452.4 575.1,452.4 579.16,453.15 583.21,455.15 587.26,456.9 591.31,461.9 595.37,464.9 599.42,464.9 603.47,448.9 607.52,443.9 611.58,443.9 615.63,435.65 619.68,434.9 623.73,423.15 627.79,423.9 631.84,421.4 635.89,433.15 639.94,458.15 644,457.4 648.05,463.15 652.1,448.15 656.15,448.9 660.21,438.9 664.26,462.4 668.31,464.4 672.36,460.65 676.42,464.4 680.47,468.9 684.52,475.65 688.57,472.4 692.63,474.4 696.68,475.65 700.73,479.9 704.78,478.4 708.84,479.4 712.89,484.9 716.94,474.9 720.99,474.9 725.05,475.65 729.1,473.9 733.15,473.4 737.2,472.4 741.26,473.9 745.31,470.15 749.36,474.65 753.41,478.4 757.47,464.4 761.52,456.9 765.57,462.4 769.62,458.15 773.68,459.4 777.73,454.4 781.78,457.65 785.83,455.65 789.89,463.9 793.94,483.15 797.99,465.65 802.04,478.9 806.1,457.65 810.15,474.4 814.2,490.65 818.25,502.4 822.31,480.65 826.36,475.65 830.41,486.4 834.46,466.4 838.52,446.4 842.57,445.65 846.62,451.4 850.67,436.9 854.73,423.15 858.78,408.15 862.83,406.4 866.88,410.65 870.94,418.9 874.99,424.4 879.04,435.65 883.09,447.4 887.15,440.65 891.2,441.4 895.25,438.9 899.3,447.4 903.36,439.4 907.41,441.4 911.46,444.9 915.51,434.4 919.57,441.4 923.62,442.4 927.67,440.65 931.72,446.9 935.78,443.15 939.83,445.65 943.88,443.15 947.93,439.9 951.99,439.4 956.04,441.9 960.09,447.4 964.14,453.9 968.2,451.9 972.25,457.4 976.3,459.9 980.35,438.15 984.41,428.15" fill="none" stroke="#c6c6c6" stroke-width="0.9" stroke-linejoin="round"/>
<rect x="78.5" y="23.9" width="8.6" height="8.8" rx="2" fill="#202020" stroke="#464646" stroke-width="0.9"/><circle cx="82.1" cy="27.8" r="2.1" stroke="#858585" fill="none" stroke-width="0.6"/><path transform="translate(78.1 23.5)" d="M5.5 5.8L8.4 8.8M3.2 4.3H4.8" stroke="#a8a8a8" fill="none" stroke-width="0.75" stroke-linecap="round" stroke-linejoin="round" stroke="#6e6e6e" stroke-width="0.6"/><rect x="91.6" y="23.9" width="8.6" height="8.8" rx="2" fill="#202020" stroke="#464646" stroke-width="0.9"/><circle cx="95.25" cy="27.5" r="2.1" stroke="#858585" fill="none" stroke-width="0.6"/><path transform="translate(91.2 23.5)" d="M5.5 5.5L7.5 7.4M3.3 4H4.8M4.05 3.2V4.8" stroke="#a8a8a8" fill="none" stroke-width="0.75" stroke-linecap="round" stroke-linejoin="round" stroke="#6e6e6e" stroke-width="0.6"/><rect x="108.5" y="23.9" width="8.6" height="8.8" rx="2" fill="#202020" stroke="#464646" stroke-width="0.9"/><text x="110.2" y="30.2" font-size="4.9" fill="#b4b4b4" font-family="Liberation Sans, sans-serif" textLength="5.2" lengthAdjust="spacingAndGlyphs">30</text><circle cx="116" cy="24.3" r="0.85" fill="#808080"/><rect x="121.6" y="23.9" width="8.6" height="8.8" rx="2" fill="#202020" stroke="#464646" stroke-width="0.9"/><path transform="translate(121.2 23.5)" d="M2.3 2.6V7.6M4.4 1.6V6.8M6.4 2.8V7.6" stroke="#a8a8a8" fill="none" stroke-width="0.75" stroke-linecap="round" stroke-linejoin="round" stroke-width="0.8" stroke="#8e8e8e"/><rect x="133.7" y="23.9" width="8.6" height="8.8" rx="2" fill="#202020" stroke="#464646" stroke-width="0.9"/><path transform="translate(133.3 23.5)" d="M1.9 2.75H7.4M1.9 4.9H7.4M1.9 7.1H7.4" stroke="#a8a8a8" fill="none" stroke-width="0.75" stroke-linecap="round" stroke-linejoin="round" stroke-width="0.9" stroke="#b8b8b8"/><rect x="146.7" y="23.9" width="8.6" height="8.8" rx="2" fill="#202020" stroke="#464646" stroke-width="0.9"/><path transform="translate(146.3 23.5)" d="M3.4 2.3H2.2V7.7H7.5V6.2M5.6 2.3H7.5V3.6M3.2 5.6L4.3 4.6L5 5.3L6.6 3.4" stroke="#a8a8a8" fill="none" stroke-width="0.75" stroke-linecap="round" stroke-linejoin="round" stroke="#a0a0a0"/><rect x="159.4" y="23.9" width="8.6" height="8.8" rx="2" fill="#202020" stroke="#464646" stroke-width="0.9"/><path transform="translate(159 23.5)" d="M2.6 3L5.9 7.2A1.05 1.05 0 0 0 7.3 5.9L4.6 2.6A1.2 1.2 0 0 0 2.9 4.2L5.3 7" stroke="#a8a8a8" fill="none" stroke-width="0.75" stroke-linecap="round" stroke-linejoin="round" stroke="#9a9a9a"/><rect x="171.7" y="23.9" width="8.6" height="8.8" rx="2" fill="#202020" stroke="#464646" stroke-width="0.9"/><path transform="translate(171.3 23.5)" d="M2.2 2.4V7.6H7.6V5.6M3.9 6L4.3 4.6L6.7 2.2L7.5 3L5.2 5.5Z" stroke="#a8a8a8" fill="none" stroke-width="0.75" stroke-linecap="round" stroke-linejoin="round" stroke="#a0a0a0"/><rect x="184.2" y="23.9" width="8.6" height="8.8" rx="2" fill="#202020" stroke="#464646" stroke-width="0.9"/><path transform="translate(183.8 23.5)" d="M2.4 6.6L3 5.2L6 2.3L7 3.3L4 6.2ZM2 7.9H7.2" stroke="#a8a8a8" fill="none" stroke-width="0.75" stroke-linecap="round" stroke-linejoin="round" stroke="#c4c4c4" stroke-width="0.95"/>
</svg>
<div class="pl" style="top:27.5px">6.1761</div>
<div class="pl" style="top:43.7px">6.1716</div>
<div class="pl" style="top:60px">6.1671</div>
<div class="pl" style="top:76.2px">6.1626</div>
<div class="pl" style="top:92.4px">6.1581</div>
<div class="pl" style="top:108.7px">6.1536</div>
<div class="pl" style="top:124.9px">6.1491</div>
<div class="pl" style="top:140.8px">6.1447</div>
<div class="pl" style="top:157.1px">6.1402</div>
<div class="pl" style="top:173.3px">6.1357</div>
<div class="pl" style="top:189.6px">6.1312</div>
<div class="pl" style="top:222.1px">6.1222</div>
<div class="pl" style="top:238.3px">6.1177</div>
<div class="pl" style="top:254.6px">6.1132</div>
<div class="pl" style="top:270.8px">6.1087</div>
<div class="pl" style="top:287.1px">6.1042</div>
<div class="pl" style="top:303.3px">6.0997</div>
<div class="pl" style="top:319.5px">6.0952</div>
<div class="pl" style="top:335.8px">6.0907</div>
<div class="pl" style="top:352px">6.0862</div>
<div class="pl" style="top:394.2px">70.50</div>
<div class="pl" style="top:409.4px">63.67</div>
<div class="pl" style="top:424.9px">56.85</div>
<div class="pl" style="top:439.8px">50.03</div>
<div class="pl" style="top:455px">43.21</div>
<div class="pl" style="top:470.3px">36.38</div>
<div class="pl" style="top:485.5px">29.56</div>
<div class="hl" style="top:203px"><span>6.1272</span></div>
<div class="hl" style="top:326.5px"><span>6.0930</span></div>
<div class="tlab" style="left:2.8px">20 Jun 2014</div>
<div class="tlab" style="left:68.4px">16:00</div>
<div class="tlab" style="left:100.81px">20:00</div>
<div class="tlab" style="left:133.22px">21. Jun</div>
<div class="tlab" style="left:165.63px">04:00</div>
<div class="tlab" style="left:198.04px">08:00</div>
<div class="tlab" style="left:230.45px">12:00</div>
<div class="tlab" style="left:262.86px">16:00</div>
<div class="tlab" style="left:295.27px">20:00</div>
<div class="tlab" style="left:327.68px">22. Jun</div>
<div class="tlab" style="left:360.09px">04:00</div>
<div class="tlab" style="left:392.5px">08:00</div>
<div class="tlab" style="left:424.91px">12:00</div>
<div class="tlab" style="left:457.32px">16:00</div>
<div class="tlab" style="left:489.73px">20:00</div>
<div class="tlab" style="left:522.14px">23. Jun</div>
<div class="tlab" style="left:554.55px">04:00</div>
<div class="tlab" style="left:586.96px">08:00</div>
<div class="tlab" style="left:619.37px">12:00</div>
<div class="tlab" style="left:651.78px">16:00</div>
<div class="tlab" style="left:684.19px">20:00</div>
<div class="tlab" style="left:716.6px">24. Jun</div>
<div class="tlab" style="left:749.01px">04:00</div>
<div class="tlab" style="left:781.42px">08:00</div>
<div class="tlab" style="left:813.83px">12:00</div>
<div class="tlab" style="left:846.24px">16:00</div>
<div class="tlab" style="left:878.65px">20:00</div>
<div class="tlab" style="left:911.06px">25. Jun</div>
<div class="tlab" style="left:943.47px">04:00</div>
<div class="tlab" style="left:975.88px">08:00</div>
<div class="abs rsit">Relative Strength Index</div>
<div class="abs x">×</div>
</div></body></html>
